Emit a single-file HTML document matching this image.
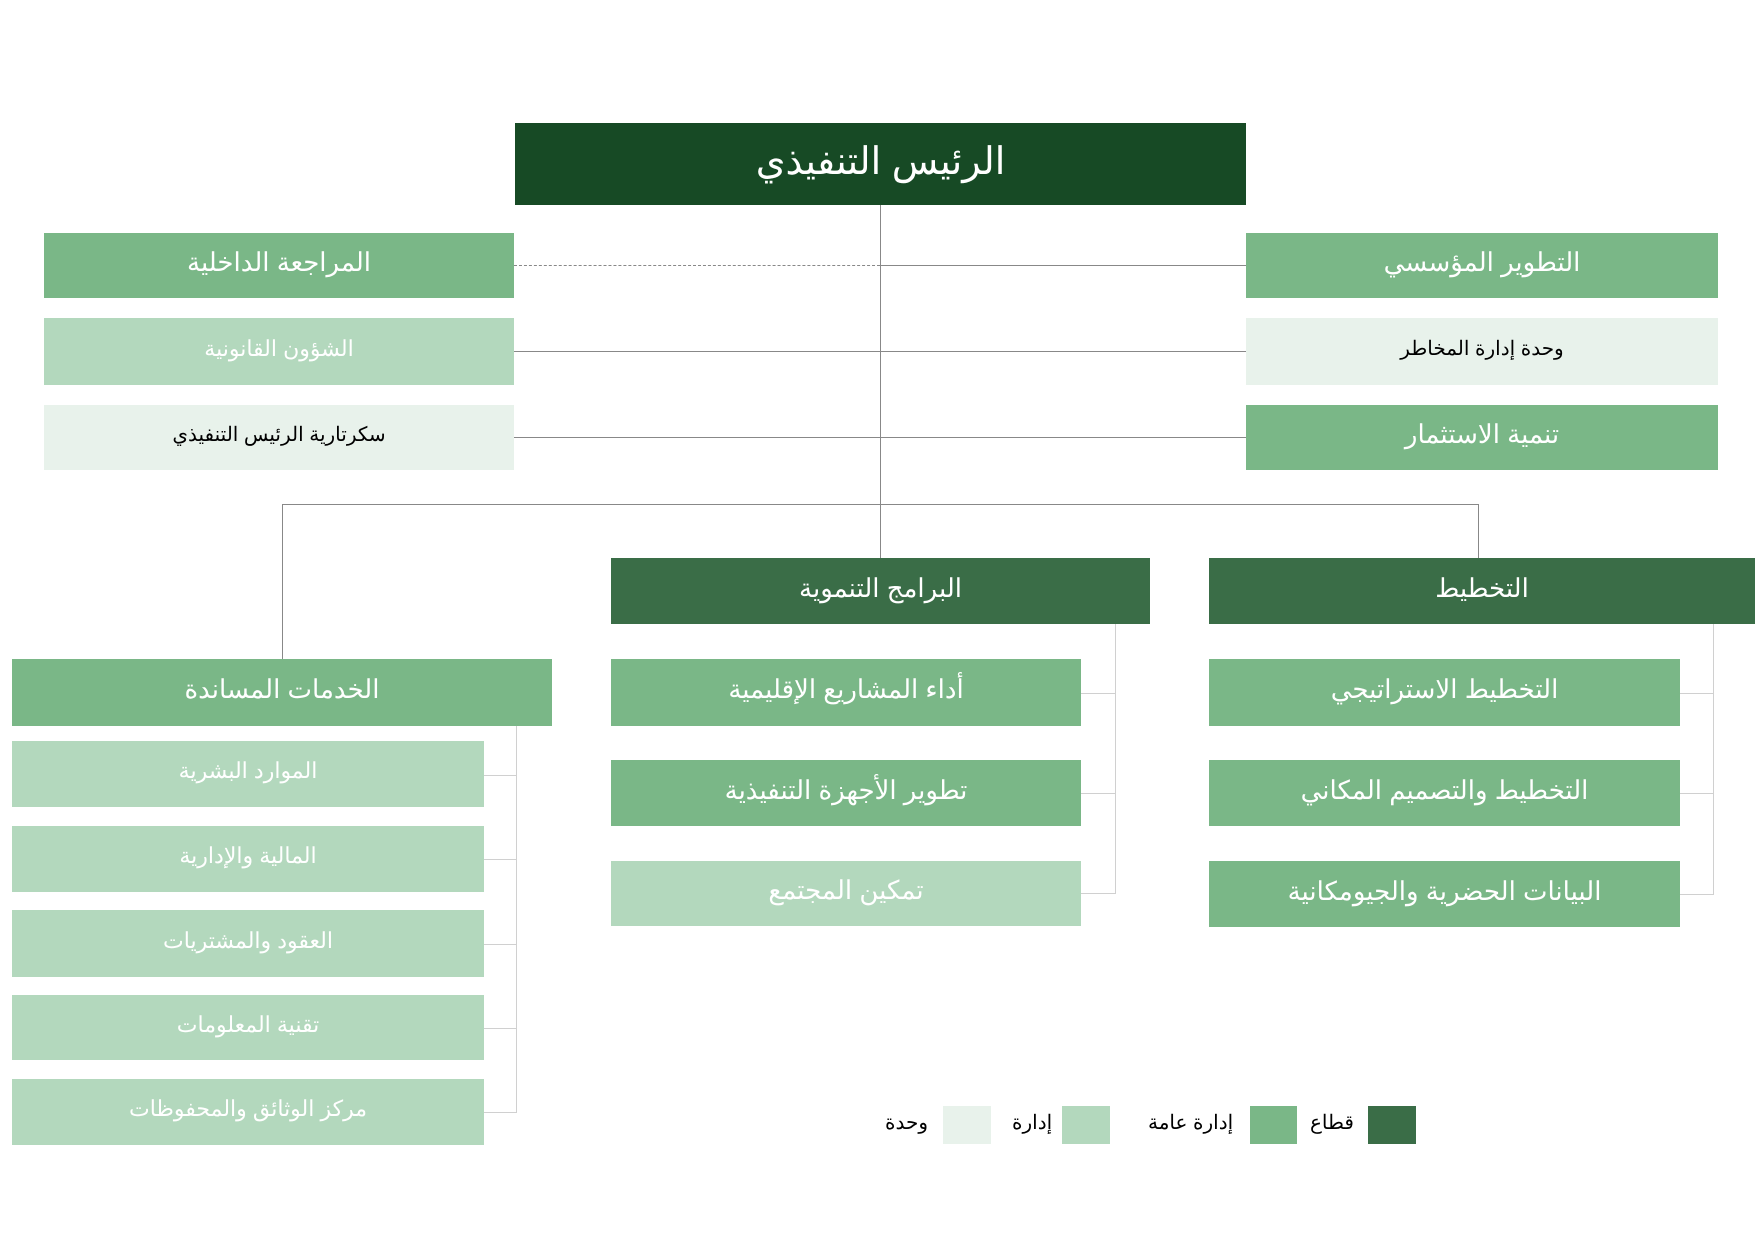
<!DOCTYPE html>
<html><head><meta charset="utf-8"><style>
body{margin:0;width:1755px;height:1240px;background:#fff;position:relative;overflow:hidden;font-family:"Liberation Sans","Noto Sans CJK SC",sans-serif;}
.b{position:absolute;display:flex;align-items:center;justify-content:center;color:#fff;font-size:26px;direction:rtl;padding-bottom:6px;box-sizing:border-box}
.d{background:#174a25}.s{background:#3a6d47}.g{background:#7ab787}.a{background:#b3d8bd}.u{background:#e8f2eb;color:#000;font-size:20px}
.l{position:absolute;background:#888}
.t{position:absolute;background:#d0d0d0}
.lg{position:absolute;font-size:20px;direction:rtl;color:#000}
</style></head><body>
<!-- connectors -->
<div class="l" style="left:880px;top:205px;width:1px;height:353px"></div>
<div style="position:absolute;left:514px;top:265px;width:366px;border-top:1px dashed #888"></div>
<div class="l" style="left:881px;top:265px;width:365px;height:1px"></div>
<div class="l" style="left:514px;top:351px;width:732px;height:1px"></div>
<div class="l" style="left:514px;top:437px;width:732px;height:1px"></div>
<div class="l" style="left:282px;top:504px;width:1197px;height:1px"></div>
<div class="l" style="left:282px;top:504px;width:1px;height:155px"></div>
<div class="l" style="left:1478px;top:504px;width:1px;height:54px"></div>
<!-- brackets -->
<div class="t" style="left:1115px;top:624px;width:1px;height:270px"></div>
<div class="t" style="left:1081px;top:693px;width:34px;height:1px"></div>
<div class="t" style="left:1081px;top:793px;width:34px;height:1px"></div>
<div class="t" style="left:1081px;top:893px;width:34px;height:1px"></div>
<div class="t" style="left:1713px;top:624px;width:1px;height:271px"></div>
<div class="t" style="left:1680px;top:693px;width:33px;height:1px"></div>
<div class="t" style="left:1680px;top:793px;width:33px;height:1px"></div>
<div class="t" style="left:1680px;top:894px;width:33px;height:1px"></div>
<div class="t" style="left:516px;top:726px;width:1px;height:387px"></div>
<div class="t" style="left:484px;top:775px;width:32px;height:1px"></div>
<div class="t" style="left:484px;top:859px;width:32px;height:1px"></div>
<div class="t" style="left:484px;top:944px;width:32px;height:1px"></div>
<div class="t" style="left:484px;top:1028px;width:32px;height:1px"></div>
<div class="t" style="left:484px;top:1112px;width:32px;height:1px"></div>
<!-- boxes -->
<div class="b d" style="left:515px;top:123px;width:731px;height:82px;font-size:38px">الرئيس التنفيذي</div>
<div class="b g" style="left:44px;top:233px;width:470px;height:65px">المراجعة الداخلية</div>
<div class="b a" style="left:44px;top:318px;width:470px;height:67px;font-size:22px">الشؤون القانونية</div>
<div class="b u" style="left:44px;top:405px;width:470px;height:65px">سكرتارية الرئيس التنفيذي</div>
<div class="b g" style="left:1246px;top:233px;width:472px;height:65px">التطوير المؤسسي</div>
<div class="b u" style="left:1246px;top:318px;width:472px;height:67px">وحدة إدارة المخاطر</div>
<div class="b g" style="left:1246px;top:405px;width:472px;height:65px">تنمية الاستثمار</div>
<div class="b s" style="left:611px;top:558px;width:539px;height:66px">البرامج التنموية</div>
<div class="b s" style="left:1209px;top:558px;width:546px;height:66px">التخطيط</div>
<div class="b g" style="left:12px;top:659px;width:540px;height:67px">الخدمات المساندة</div>
<div class="b g" style="left:611px;top:659px;width:470px;height:67px">أداء المشاريع الإقليمية</div>
<div class="b g" style="left:611px;top:760px;width:470px;height:66px">تطوير الأجهزة التنفيذية</div>
<div class="b a" style="left:611px;top:861px;width:470px;height:65px">تمكين المجتمع</div>
<div class="b g" style="left:1209px;top:659px;width:471px;height:67px">التخطيط الاستراتيجي</div>
<div class="b g" style="left:1209px;top:760px;width:471px;height:66px">التخطيط والتصميم المكاني</div>
<div class="b g" style="left:1209px;top:861px;width:471px;height:66px">البيانات الحضرية والجيومكانية</div>
<div class="b a" style="left:12px;top:741px;width:472px;height:66px;font-size:22px">الموارد البشرية</div>
<div class="b a" style="left:12px;top:826px;width:472px;height:66px;font-size:22px">المالية والإدارية</div>
<div class="b a" style="left:12px;top:910px;width:472px;height:67px;font-size:22px">العقود والمشتريات</div>
<div class="b a" style="left:12px;top:995px;width:472px;height:65px;font-size:22px">تقنية المعلومات</div>
<div class="b a" style="left:12px;top:1079px;width:472px;height:66px;font-size:22px">مركز الوثائق والمحفوظات</div>
<!-- legend -->
<div class="s" style="position:absolute;left:1368px;top:1106px;width:48px;height:38px"></div>
<div class="g" style="position:absolute;left:1250px;top:1106px;width:47px;height:38px"></div>
<div class="a" style="position:absolute;left:1062px;top:1106px;width:48px;height:38px"></div>
<div style="position:absolute;left:943px;top:1106px;width:48px;height:38px;background:#e8f2eb"></div>
<div class="lg" style="left:1310px;top:1110px">قطاع</div>
<div class="lg" style="left:1148px;top:1110px">إدارة عامة</div>
<div class="lg" style="left:1012px;top:1110px">إدارة</div>
<div class="lg" style="left:885px;top:1110px">وحدة</div>
</body></html>
